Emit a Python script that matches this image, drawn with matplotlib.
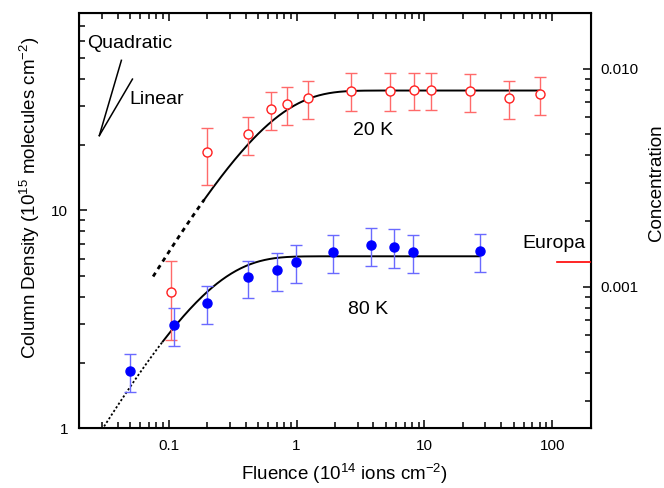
import numpy as np
import matplotlib
matplotlib.use("Agg")
import matplotlib.pyplot as plt
from matplotlib.ticker import LogLocator, NullFormatter, FixedLocator, FixedFormatter

plt.rcParams['font.family'] = ['Liberation Sans', 'DejaVu Sans']
plt.rcParams['mathtext.fontset'] = 'custom'
plt.rcParams['mathtext.rm'] = 'Liberation Sans'
plt.rcParams['mathtext.it'] = 'Liberation Sans:italic'

# 20 K data (open red circles)
fluence_20k = [0.104, 0.20, 0.42, 0.63, 0.84, 1.22, 2.65, 5.37, 8.27, 11.2, 22.7, 45.8, 79.7]
dens_20k = [4.2, 18.5, 22.4, 29.1, 30.7, 32.7, 35.4, 35.4, 35.7, 35.7, 35.3, 32.8, 34.1]
err_20k = [1.65, 5.4, 4.5, 5.7, 6.1, 6.4, 7.0, 7.0, 7.0, 7.0, 7.0, 6.5, 6.8]

# 80 K data (filled blue circles)
fluence_80k = [0.05, 0.11, 0.20, 0.416, 0.70, 0.99, 1.94, 3.84, 5.78, 8.19, 27.2]
dens_80k = [1.83, 2.98, 3.76, 4.92, 5.33, 5.80, 6.44, 6.95, 6.81, 6.44, 6.51]
err_80k = [0.36, 0.60, 0.75, 0.96, 1.05, 1.16, 1.30, 1.38, 1.37, 1.30, 1.30]

# saturation fits N = Nsat * (1 - exp(-sigma * F))
nsat_20k, sigma_20k = 35.4, 2.0
nsat_80k, sigma_80k = 6.15, 5.8

# slope guides
guide_start = (0.0287, 22.0)
quad_end_x = 0.0427
lin_end_x = 0.0521

# Europa concentration on the right axis
europa_conc = 0.0013
europa_x = [110, 200]
conc_per_density = 0.001 / 4.466

fig = plt.figure(figsize=(6.64, 4.88), dpi=100)
ax = fig.add_axes([0.1194, 0.1223, 0.7702, 0.8504])
ax.set_xscale('log')
ax.set_yscale('log')
ax.set_xlim(0.02, 200)
ax.set_ylim(1, 80)


def fit(nsat, sigma, x):
    return nsat * (1 - np.exp(-sigma * x))


x = np.geomspace(0.0756, 0.19, 40)
ax.plot(x, fit(nsat_20k, sigma_20k, x), color='black', lw=2, ls=(0, (1.6, 1.6)))
x = np.geomspace(0.19, 80, 200)
ax.plot(x, fit(nsat_20k, sigma_20k, x), color='black', lw=1.4)

x = np.geomspace(0.03, 0.09, 40)
ax.plot(x, fit(nsat_80k, sigma_80k, x), color='black', lw=1.3, ls=(0, (1.2, 1.2)))
x = np.geomspace(0.09, 27, 200)
ax.plot(x, fit(nsat_80k, sigma_80k, x), color='black', lw=1.4)

ax.errorbar(fluence_20k, dens_20k, yerr=err_20k, fmt='o', mfc='white', mec='#ff2020',
            ms=6.5, mew=1.0, ecolor='#ff6a6a', elinewidth=1.0, capsize=4.5, capthick=1.0, zorder=3)
ax.errorbar(fluence_80k, dens_80k, yerr=err_80k, fmt='o', mfc='#0000ff', mec='#0000ff',
            ms=6.5, ecolor='#6a6aff', elinewidth=1.0, capsize=4.5, capthick=1.0, zorder=3)

x0, y0 = guide_start
ax.plot([x0, quad_end_x], [y0, y0 * (quad_end_x / x0) ** 2], color='black', lw=1.1)
ax.plot([x0, lin_end_x], [y0, y0 * (lin_end_x / x0)], color='black', lw=1.1)

ax.text(0.0232, 58.2, 'Quadratic', fontsize=14, ha='left', va='center')
ax.text(0.0496, 32.3, 'Linear', fontsize=14, ha='left', va='center')
ax.text(2.79, 23.3, '20 K', fontsize=14, ha='left', va='center')
ax.text(2.55, 3.5, '80 K', fontsize=14, ha='left', va='center')
ax.text(58.4, 7.07, 'Europa', fontsize=14, ha='left', va='center')

ax.set_xticks([0.1, 1, 10, 100])
ax.set_xticklabels(['0.1', '1', '10', '100'])
ax.xaxis.set_minor_locator(LogLocator(base=10, subs=np.arange(2, 10)))
ax.xaxis.set_minor_formatter(NullFormatter())
ax.set_yticks([1, 10])
ax.set_yticklabels(['1', '10'])
ax.yaxis.set_minor_locator(LogLocator(base=10, subs=np.arange(2, 10)))
ax.yaxis.set_minor_formatter(NullFormatter())

ax.tick_params(which='both', direction='in', top=True, right=False, labelsize=11, width=1.1)
ax.tick_params(which='major', length=6, pad=8)
ax.tick_params(which='minor', length=4)
for s in ax.spines.values():
    s.set_linewidth(1.5)

ax.set_xlabel('Fluence (10$^{14}$ ions cm$^{-2}$)', fontsize=13.5, va='center')
ax.xaxis.set_label_coords(0.5186, -0.111)
ax.set_ylabel('Column Density (10$^{15}$ molecules cm$^{-2}$)', fontsize=13.5, va='center')
ax.yaxis.set_label_coords(-0.0964, 0.556)

ax2 = ax.twinx()
ax2.set_yscale('log')
ax2.set_ylim(1 * conc_per_density, 80 * conc_per_density)
ax2.plot(europa_x, [europa_conc, europa_conc], color='#ff0000', lw=1.2, clip_on=False)
ax2.yaxis.set_major_locator(FixedLocator([0.001, 0.01]))
ax2.yaxis.set_major_formatter(FixedFormatter(['0.001', '0.010']))
ax2.yaxis.set_minor_locator(LogLocator(base=10, subs=np.arange(2, 10)))
ax2.yaxis.set_minor_formatter(NullFormatter())
ax2.tick_params(which='both', direction='in', labelsize=11, width=1.1)
ax2.tick_params(which='major', length=6, pad=7)
ax2.tick_params(which='minor', length=4)
ax2.set_ylabel('Concentration', fontsize=13.5, va='center')
ax2.yaxis.set_label_coords(1.1287, 0.591)
ax2.set_xlim(0.02, 200)

fig.savefig('out.png', dpi=100)
